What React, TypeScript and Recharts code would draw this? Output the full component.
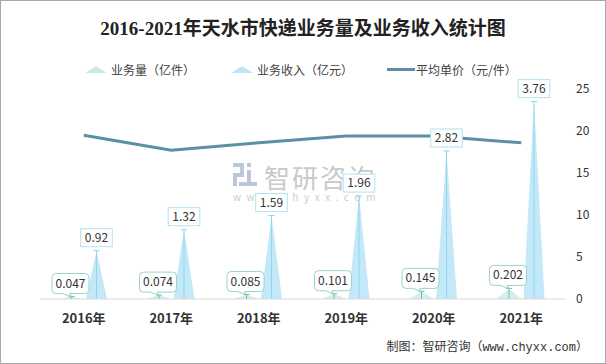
import { ComposedChart, Bar, Line, XAxis, YAxis, LabelList } from 'recharts';

const years = ['2016年', '2017年', '2018年', '2019年', '2020年', '2021年'];
const volume = [0.047, 0.074, 0.085, 0.101, 0.145, 0.202]; // 业务量（亿件）
const revenue = [0.92, 1.32, 1.59, 1.96, 2.82, 3.76]; // 业务收入（亿元）
const unitPrice = [19.5, 17.7, 18.6, 19.4, 19.4, 18.6]; // 平均单价（元/件）
const rightTicks = [0, 5, 10, 15, 20, 25];

const data = years.map((year, i) => ({
  year,
  volume: volume[i],
  revenue: revenue[i],
  price: unitPrice[i],
}));

const FONT = "'Noto Sans CJK SC', 'Noto Sans', sans-serif";

// 业务量：浅青色尖角 + 细线
const VolumeShape = (props: any) => {
  const { x, y, width, height } = props;
  const cx = x + width / 2;
  const base = y + height;
  return (
    <g>
      <path d={`M${x},${base} L${cx},${y} L${x + width},${base} Z`} fill="#d6eeea" />
      <line x1={cx} y1={base} x2={cx} y2={y} stroke="#6cc0b2" strokeWidth={1} />
      <line x1={cx - 3} y1={y} x2={cx + 3} y2={y} stroke="#6cc0b2" strokeWidth={1} />
    </g>
  );
};

// 业务收入：浅蓝色尖角 + 细线
const RevenueShape = (props: any) => {
  const { x, y, width, height } = props;
  const cx = x + width / 2;
  const base = y + height;
  return (
    <g>
      <path d={`M${x + 2},${base} L${cx},${y} L${x + width - 2},${base} Z`} fill="#c3e8f7" />
      <line x1={cx} y1={base} x2={cx} y2={y} stroke="#93d3ee" strokeWidth={1} />
      <line x1={cx - 3} y1={y} x2={cx + 3} y2={y} stroke="#93d3ee" strokeWidth={1} />
    </g>
  );
};

const RevenueLabel = (props: any) => {
  const { x, y, width, value } = props;
  const cx = x + width / 2;
  const w = String(value).length * 6.4 + 6;
  const bottom = y - 4;
  return (
    <g>
      <rect x={cx - w / 2} y={bottom - 18} width={w} height={18} fill="#fff" stroke="#b3e1f3" strokeWidth={1} />
      <text x={cx} y={bottom - 5} textAnchor="middle" fontSize={12} fill="#333" fontFamily={FONT}>
        {value}
      </text>
    </g>
  );
};

const VolumeLabel = (props: any) => {
  const { x, y, width, value } = props;
  const cx = x + width / 2;
  const w = 37;
  const bottom = y - 3;
  const left = cx - w / 2 - 1;
  return (
    <g>
      <path
        d={`M${left + 4},${bottom - 20} H${left + w - 4} Q${left + w},${bottom - 20} ${left + w},${bottom - 16} V${bottom - 4} Q${left + w},${bottom} ${left + w - 4},${bottom} H${cx - 2} L${cx},${y} L${cx - 9},${bottom} H${left + 4} Q${left},${bottom} ${left},${bottom - 4} V${bottom - 16} Q${left},${bottom - 20} ${left + 4},${bottom - 20} Z`}
        fill="#fff"
        stroke="#9ad4c9"
        strokeWidth={1}
      />
      <text x={left + w / 2} y={bottom - 6} textAnchor="middle" fontSize={12} fill="#333" fontFamily={FONT}>
        {value}
      </text>
    </g>
  );
};

export default function App() {
  return (
    <div style={{ position: 'absolute', left: 0, top: 0, width: 606, height: 364, background: '#fff', fontFamily: FONT }}>
      <div
        style={{
          position: 'absolute', left: 0, top: 17, width: 606, textAlign: 'center',
          fontSize: 19, fontWeight: 'bold', color: '#222',
          fontFamily: "'Liberation Serif', 'Noto Sans CJK SC', serif", lineHeight: '24px',
        }}
      >
        2016-2021年天水市快递业务量及业务收入统计图
      </div>

      {/* 图例 */}
      <div style={{ position: 'absolute', left: 0, top: 62, width: 606, height: 16, fontSize: 12, color: '#404040' }}>
        <svg style={{ position: 'absolute', left: 85, top: 4 }} width={22} height={8}>
          <path d="M0,7 L11,0 L22,7 Z" fill="#cbe9e5" />
        </svg>
        <span style={{ position: 'absolute', left: 111, top: 0, lineHeight: '16px' }}>业务量（亿件）</span>
        <svg style={{ position: 'absolute', left: 231, top: 4 }} width={22} height={8}>
          <path d="M0,7 L11,0 L22,7 Z" fill="#bde5f5" />
        </svg>
        <span style={{ position: 'absolute', left: 257, top: 0, lineHeight: '16px' }}>业务收入（亿元）</span>
        <svg style={{ position: 'absolute', left: 387, top: 6 }} width={28} height={4}>
          <rect x={0} y={0} width={28} height={3} fill="#5a8fa4" />
        </svg>
        <span style={{ position: 'absolute', left: 416, top: 0, lineHeight: '16px' }}>平均单价（元/件）</span>
      </div>

      {/* 水印 */}
      <div style={{ position: 'absolute', left: 233, top: 162 }}>
        <svg width={26} height={26} style={{ position: 'absolute', left: 0, top: 0 }}>
          <rect x={0} y={1} width={11} height={4} fill="#bcc6dd" />
          <rect x={7} y={1} width={4} height={12} fill="#bcc6dd" />
          <rect x={0} y={11} width={11} height={4} fill="#bcc6dd" />
          <rect x={0} y={11} width={4} height={13} fill="#bcc6dd" />
          <rect x={14} y={1} width={4} height={4} fill="#bcc6dd" />
          <rect x={14} y={8} width={4} height={16} fill="#bcc6dd" />
          <rect x={6} y={20} width={18} height={4} fill="#bcc6dd" />
        </svg>
        <span style={{ position: 'absolute', left: 31, top: -4, fontSize: 26, color: '#c9c9c9', whiteSpace: 'nowrap', letterSpacing: 2 }}>
          智研咨询
        </span>
        <span style={{ position: 'absolute', left: 0, top: 27, fontSize: 10, color: '#cccccc', whiteSpace: 'nowrap', letterSpacing: 5.6 }}>
          www.chyxx.com
        </span>
      </div>

      <div style={{ position: 'absolute', left: 0, top: 0 }}>
        <ComposedChart
          width={606}
          height={364}
          data={data}
          margin={{ top: 89, right: 0, bottom: 0, left: 40 }}
          barSize={25}
          barGap={0}
        >
          <XAxis
            dataKey="year"
            height={65}
            axisLine={{ stroke: '#d9d9d9' }}
            tickLine={false}
            tickSize={0}
            tickMargin={15}
            tick={{ fontSize: 13, fontWeight: 'bold', fill: '#333', fontFamily: FONT }}
          />
          <YAxis yAxisId="left" hide domain={[0, 4]} />
          <YAxis
            yAxisId="right"
            orientation="right"
            width={41}
            domain={[0, 25]}
            ticks={rightTicks}
            axisLine={false}
            tickLine={false}
            tickSize={0}
            tickMargin={11}
            tick={{ fontSize: 12, fill: '#333', fontFamily: FONT, textAnchor: 'start' }}
          />
          <Bar yAxisId="left" dataKey="volume" shape={<VolumeShape />} isAnimationActive={false}>
            <LabelList dataKey="volume" content={<VolumeLabel />} />
          </Bar>
          <Bar yAxisId="left" dataKey="revenue" shape={<RevenueShape />} isAnimationActive={false}>
            <LabelList dataKey="revenue" content={<RevenueLabel />} />
          </Bar>
          <Line
            yAxisId="right"
            dataKey="price"
            type="linear"
            stroke="#5a8fa4"
            strokeWidth={3}
            dot={false}
            activeDot={false}
            isAnimationActive={false}
          />
        </ComposedChart>
      </div>

      <div
        style={{
          position: 'absolute', right: 18, top: 340, fontSize: 12, color: '#333', whiteSpace: 'nowrap',
          fontFamily: "'Liberation Mono', 'Noto Sans CJK SC', monospace", lineHeight: '16px',
        }}
      >
        制图：智研咨询（www.chyxx.com）
      </div>

      <div style={{ position: 'absolute', left: 0, top: 0, width: 606, height: 364, boxSizing: 'border-box', border: '1px solid #a8a8a8', pointerEvents: 'none' }} />
    </div>
  );
}
